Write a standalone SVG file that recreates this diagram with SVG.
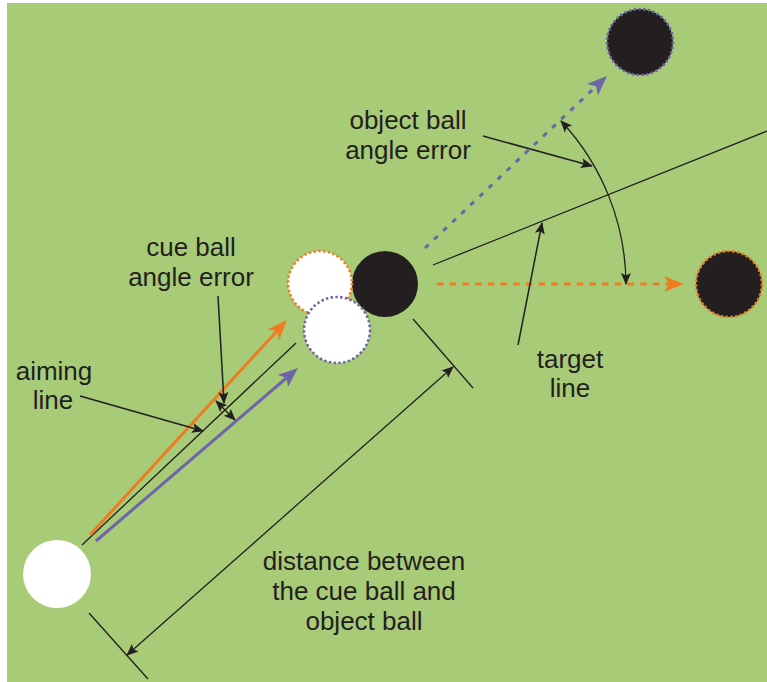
<svg xmlns="http://www.w3.org/2000/svg" width="767" height="682" viewBox="0 0 767 682">
  <style>
    .txt { font-family: "Liberation Sans", Arial, sans-serif; font-size: 26px; fill: #231f20; text-anchor: middle; }
    .thin { stroke: #231f20; stroke-width: 1.3; fill: none; }
    .ptr { stroke: #231f20; stroke-width: 1.5; fill: none; marker-end: url(#blk); }
    .ball-black { fill: #231f20; }
    .ball-white { fill: #ffffff; }
    .dot-orange { stroke: #ee7d22; stroke-width: 2.6; stroke-dasharray: 2.4 2.4; }
    .dot-purple { stroke: #6e64a8; stroke-width: 2.6; stroke-dasharray: 2.4 2.4; }
  </style>
  <defs>
    <marker id="blk" markerUnits="userSpaceOnUse" viewBox="-13 -6 15 12" refX="0" refY="0" markerWidth="15" markerHeight="12" orient="auto-start-reverse" overflow="visible">
      <path d="M1,0 L-11,-5 L-8.5,0 L-11,5 Z" fill="#231f20"/>
    </marker>
    <marker id="org" markerUnits="userSpaceOnUse" viewBox="-14 -10 26 20" refX="0" refY="0" markerWidth="26" markerHeight="20" orient="auto" overflow="visible">
      <path d="M10,0 L-10,-8 L-5,0 L-10,8 Z" fill="#ee7d22"/>
    </marker>
    <marker id="pur" markerUnits="userSpaceOnUse" viewBox="-14 -10 26 20" refX="0" refY="0" markerWidth="26" markerHeight="20" orient="auto" overflow="visible">
      <path d="M10,0 L-10,-8 L-5,0 L-10,8 Z" fill="#6e64a8"/>
    </marker>
  </defs>

  <rect x="7" y="3" width="760" height="679" fill="#a8cb78"/>

  <g id="connectors">
    <line x1="82" y1="545" x2="296" y2="343" class="thin"/>
    <line x1="90" y1="535" x2="280.2" y2="327.4" stroke="#ee7d22" stroke-width="3" marker-end="url(#org)"/>
    <line x1="96" y1="541" x2="290.4" y2="374.5" stroke="#6e64a8" stroke-width="3" marker-end="url(#pur)"/>
    <line x1="425" y1="248" x2="599.7" y2="82.9" stroke="#6e64a8" stroke-width="3" stroke-dasharray="5 7.5" marker-end="url(#pur)"/>
    <line x1="437" y1="284" x2="674" y2="284" stroke="#ee7d22" stroke-width="3" stroke-dasharray="6.5 6.2" marker-end="url(#org)"/>
    <line x1="433" y1="265" x2="767" y2="131" class="thin"/>
    <path d="M561,121 A241,241 0 0,1 626,284" class="thin" stroke-width="1.5" marker-start="url(#blk)" marker-end="url(#blk)"/>
    <line x1="216" y1="401" x2="235" y2="420" class="thin" marker-start="url(#blk)" marker-end="url(#blk)"/>
    <line x1="413" y1="319" x2="473" y2="388" class="thin" stroke-width="1.5"/>
    <line x1="89" y1="613" x2="148" y2="679" class="thin" stroke-width="1.5"/>
    <line x1="127" y1="655" x2="453" y2="367" class="thin" stroke-width="1.5" marker-start="url(#blk)" marker-end="url(#blk)"/>
    <line x1="483" y1="136" x2="592" y2="166" class="ptr"/>
    <line x1="518" y1="345" x2="542" y2="223" class="ptr"/>
    <line x1="80" y1="396" x2="203" y2="431" class="ptr"/>
    <line x1="218" y1="296" x2="224" y2="403" class="ptr"/>
  </g>

  <g id="cue-ball">
    <circle cx="57" cy="574" r="34" class="ball-white"/>
  </g>
  <g id="object-ball">
    <circle cx="385" cy="284" r="33" class="ball-black"/>
  </g>
  <g id="ghost-orange">
    <circle cx="320" cy="283" r="32" class="ball-white dot-orange"/>
  </g>
  <g id="ghost-purple">
    <circle cx="337" cy="330" r="33" class="ball-white dot-purple"/>
  </g>
  <g id="object-ball-error">
    <circle cx="640" cy="42" r="33" class="ball-black dot-purple"/>
  </g>
  <g id="object-ball-target">
    <circle cx="729" cy="284" r="33" class="ball-black dot-orange"/>
  </g>

  <g id="label-object-error">
    <text class="txt" x="408" y="129">object ball</text>
    <text class="txt" x="408" y="159">angle error</text>
  </g>
  <g id="label-cue-error">
    <text class="txt" x="191" y="256">cue ball</text>
    <text class="txt" x="191" y="286">angle error</text>
  </g>
  <g id="label-aiming">
    <text class="txt" x="54" y="380">aiming</text>
    <text class="txt" x="53" y="409">line</text>
  </g>
  <g id="label-target">
    <text class="txt" x="570" y="368">target</text>
    <text class="txt" x="570" y="397">line</text>
  </g>
  <g id="label-distance">
    <text class="txt" x="364" y="570">distance between</text>
    <text class="txt" x="364" y="600">the cue ball and</text>
    <text class="txt" x="364" y="630">object ball</text>
  </g>
</svg>
